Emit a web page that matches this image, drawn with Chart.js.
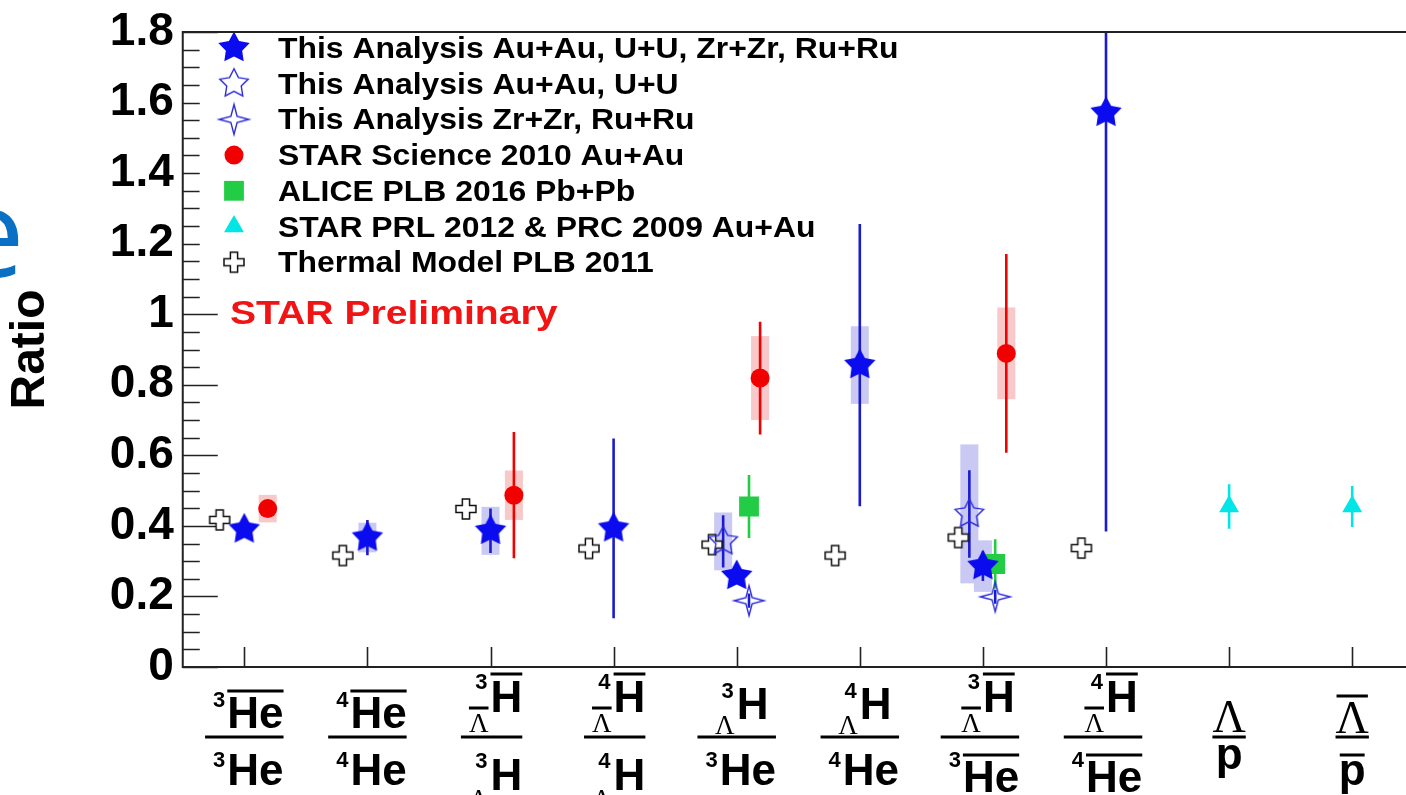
<!DOCTYPE html>
<html>
<head>
<meta charset="utf-8">
<title>Ratio</title>
<script src="https://cdn.jsdelivr.net/npm/chart.js@4.4.1/dist/chart.umd.min.js"></script>
<style>
  html, body { margin: 0; padding: 0; background: #fff; overflow: hidden; }
  #chart { display: block; width: 1406px; height: 795px; }
</style>
</head>
<body>
<canvas id="chart" width="1406" height="795"></canvas>
<script>
const SANS = '"Liberation Sans", Arial, Helvetica, sans-serif';
const SERIF = '"Liberation Serif", "Times New Roman", Times, serif';

// ratios on the x axis
const categories = [
  'anti-3He/3He', 'anti-4He/4He', 'anti-3LH/3LH', 'anti-4LH/4LH', '3LH/3He',
  '4LH/4He', 'anti-3LH/anti-3He', 'anti-4LH/anti-4He', 'Lambda/p', 'anti-Lambda/anti-p'
];

// fraction labels under each category: numerator, denominator
const tickLabels = [
  [{ A: '3', s: 'He', anti: true }, { A: '3', s: 'He' }],
  [{ A: '4', s: 'He', anti: true }, { A: '4', s: 'He' }],
  [{ A: '3', s: 'H', hyp: true, anti: true }, { A: '3', s: 'H', hyp: true }],
  [{ A: '4', s: 'H', hyp: true, anti: true }, { A: '4', s: 'H', hyp: true }],
  [{ A: '3', s: 'H', hyp: true }, { A: '3', s: 'He' }],
  [{ A: '4', s: 'H', hyp: true }, { A: '4', s: 'He' }],
  [{ A: '3', s: 'H', hyp: true, anti: true }, { A: '3', s: 'He', anti: true }],
  [{ A: '4', s: 'H', hyp: true, anti: true }, { A: '4', s: 'He', anti: true }],
  [{ s: 'Λ' }, { s: 'p' }],
  [{ s: 'Λ', anti: true }, { s: 'p', anti: true }]
];

const yTicks = [0, 0.2, 0.4, 0.6, 0.8, 1, 1.2, 1.4, 1.6, 1.8];
const yTickLabels = ['0', '0.2', '0.4', '0.6', '0.8', '1', '1.2', '1.4', '1.6', '1.8'];

// This Analysis Au+Au, U+U, Zr+Zr, Ru+Ru
const combinedVal  = [0.390, 0.367, 0.386, 0.393, 0.258, 0.856, 0.286, 1.571, null, null];
const combinedStat = [0.020, 0.050, 0.063, 0.255, 0.020, 0.400, 0.042, 1.187, null, null];
const combinedSys  = [null, 0.042, 0.068, null, null, 0.110, 0.073, null, null, null];

// This Analysis Au+Au, U+U
const auuVal  = [null, null, null, null, 0.356, null, 0.434, null, null, null];
const auuStat = [null, null, null, null, 0.074, null, 0.124, null, null, null];
const auuSys  = [null, null, null, null, 0.082, null, 0.197, null, null, null];

// This Analysis Zr+Zr, Ru+Ru
const zrruVal  = [null, null, null, null, 0.188, null, 0.199, null, null, null];
const zrruStat = [null, null, null, null, 0.020, null, 0.020, null, null, null];

// STAR Science 2010 Au+Au
const scienceVal  = [0.449, null, 0.487, null, 0.819, null, 0.889, null, null, null];
const scienceStat = [0.020, null, 0.179, null, 0.160, null, 0.282, null, null, null];
const scienceSys  = [0.039, null, 0.070, null, 0.119, null, 0.130, null, null, null];

// ALICE PLB 2016 Pb+Pb
const aliceVal  = [null, null, null, null, 0.455, null, 0.292, null, null, null];
const aliceStat = [null, null, null, null, 0.089, null, 0.070, null, null, null];

// STAR PRL 2012 & PRC 2009 Au+Au
const prlVal  = [null, null, null, null, null, null, null, null, 0.455, 0.455];
const prlStat = [null, null, null, null, null, null, null, null, 0.063, 0.058];

// Thermal Model PLB 2011
const thermalVal = [0.417, 0.316, 0.448, 0.336, 0.347, 0.316, 0.367, 0.337, null, null];

// marker images
function markerCanvas(size, paint) {
  const c = document.createElement('canvas');
  c.width = c.height = size;
  const g = c.getContext('2d');
  g.translate(size / 2, size / 2);
  paint(g);
  return c;
}
function starPath(g, n, R, r) {
  g.beginPath();
  for (let k = 0; k < 2 * n; k++) {
    const a = -Math.PI / 2 + k * Math.PI / n;
    const rad = k % 2 ? r : R;
    g.lineTo(rad * Math.cos(a), rad * Math.sin(a));
  }
  g.closePath();
}
const fullStar = markerCanvas(36, g => { starPath(g, 5, 16.5, 8.6); g.fillStyle = '#0b0bef'; g.fill(); });
const openStar = markerCanvas(36, g => { starPath(g, 5, 15, 7.6); g.strokeStyle = '#2a2ad8'; g.lineWidth = 1.4; g.stroke(); });
const fourStar = markerCanvas(36, g => { starPath(g, 4, 15, 4.4); g.strokeStyle = '#2a2ad8'; g.lineWidth = 1.4; g.stroke(); });
const openCross = markerCanvas(26, g => {
  const a = 3.6, L = 10;
  const pts = [[-a, -L], [a, -L], [a, -a], [L, -a], [L, a], [a, a], [a, L], [-a, L], [-a, a], [-L, a], [-L, -a], [-a, -a]];
  g.beginPath();
  pts.forEach(p => g.lineTo(p[0], p[1]));
  g.closePath();
  g.fillStyle = '#fff'; g.fill();
  g.strokeStyle = '#111'; g.lineWidth = 1.5; g.stroke();
});

const series = [
  { label: 'This Analysis Au+Au, U+U, Zr+Zr, Ru+Ru', val: combinedVal, stat: combinedStat, sys: combinedSys,
    dx: 0, marker: fullStar, radius: 10, color: '#0b0bef', line: '#1a1ad0', box: '#c9c9f4' },
  { label: 'This Analysis Au+Au, U+U', val: auuVal, stat: auuStat, sys: auuSys,
    dx: -0.11, marker: openStar, radius: 10, color: '#2a2ad8', line: '#1a1ad0', box: '#c9c9f4' },
  { label: 'This Analysis Zr+Zr, Ru+Ru', val: zrruVal, stat: zrruStat, sys: null,
    dx: 0.1, marker: fourStar, radius: 10, color: '#2a2ad8', line: '#1a1ad0', box: '#c9c9f4' },
  { label: 'STAR Science 2010 Au+Au', val: scienceVal, stat: scienceStat, sys: scienceSys,
    dx: 0.19, marker: 'circle', radius: 9.5, color: '#f20000', line: '#f20000', box: '#f9c8c8' },
  { label: 'ALICE PLB 2016 Pb+Pb', val: aliceVal, stat: aliceStat, sys: null,
    dx: 0.1, marker: 'rect', radius: 14, color: '#22cc44', line: '#22cc44', box: null },
  { label: 'STAR PRL 2012 & PRC 2009 Au+Au', val: prlVal, stat: prlStat, sys: null,
    dx: 0, marker: 'triangle', radius: 11.5, color: '#00e6e6', line: '#00e6e6', box: null },
  { label: 'Thermal Model PLB 2011', val: thermalVal, stat: null, sys: null,
    dx: -0.2, marker: openCross, radius: 10, color: '#fff', line: '#111', box: null }
];

const xOf = (i, s) => i + 0.5 + s.dx;

// fraction label layout, offsets from the category centre and the x axis
const F_BIG = `bold 44px ${SANS}`;
const F_SUP = `bold 22px ${SANS}`;
const F_LAM = `27px ${SERIF}`;
const F_LAMBIG = `46px ${SERIF}`;

function layoutTerm(ctx, t, den) {
  const out = { items: [], bars: [] };
  const put = (str, font, x, y, align) => {
    ctx.font = font;
    const w = ctx.measureText(str).width;
    const left = align === 'right' ? x - w : align === 'center' ? x - w / 2 : x;
    out.items.push({ str, font, x: left, y });
    return { left, right: left + w };
  };
  if (!t.A) {
    const base = den ? (t.anti ? 118 : 102) : (t.anti ? 66 : 65);
    const r = put(t.s, t.s === 'Λ' ? F_LAMBIG : F_BIG, 0, base, 'center');
    if (t.anti) out.bars.push({ x1: r.left + 1, x2: r.right - 1, y: den ? 88 : 29 });
    out.pad = 0;
    return out;
  }
  out.pad = 8;
  if (t.hyp) {
    let hBase, supBase, lamBase;
    if (den) { hBase = 123; supBase = 101; lamBase = 141; }
    else if (t.anti) { hBase = 45; supBase = 22; lamBase = 65; }
    else { hBase = 52; supBase = 31; lamBase = 67; }
    const h = put(t.s, F_BIG, 0, hBase, 'left');
    put(t.A, F_SUP, -3, supBase, 'right');
    const l = put('Λ', F_LAM, -2, lamBase, 'right');
    if (t.anti) {
      out.bars.push({ x1: h.left, x2: h.right, y: hBase - 38 });
      out.bars.push({ x1: l.left, x2: l.right, y: lamBase - 24 });
    }
    return out;
  }
  let heBase, supBase, heLeft;
  if (!den) { heBase = 61; supBase = 40; heLeft = -17; }
  else if (t.anti) { heBase = 125; supBase = 100; heLeft = -20; }
  else { heBase = 118; supBase = 100; heLeft = -17; }
  const he = put(t.s, F_BIG, heLeft, heBase, 'left');
  put(t.A, F_SUP, heLeft - 2, supBase, 'right');
  if (t.anti) out.bars.push({ x1: he.left, x2: he.right, y: heBase - 37 });
  return out;
}

function stretchText(ctx, str, x, y, font, sx) {
  ctx.save();
  ctx.translate(x, y);
  ctx.scale(sx, 1);
  ctx.font = font;
  ctx.fillText(str, 0, 0);
  ctx.restore();
}

const decorations = {
  id: 'decorations',
  beforeDatasetsDraw(chart) {
    const { ctx, chartArea: a, scales: { x, y } } = chart;
    ctx.save();
    // ticks pointing into the frame
    ctx.strokeStyle = '#222';
    ctx.lineWidth = 1.6;
    ctx.beginPath();
    for (let k = 0; k <= 36; k++) {
      const py = Math.round(y.getPixelForValue(k * 0.05)) + 0.5;
      ctx.moveTo(a.left, py);
      ctx.lineTo(a.left + (k % 4 === 0 ? 35 : 17), py);
    }
    categories.forEach((c, i) => {
      const px = Math.round(x.getPixelForValue(i + 0.5)) + 0.5;
      ctx.moveTo(px, a.bottom);
      ctx.lineTo(px, a.bottom - 20);
    });
    ctx.stroke();

    ctx.beginPath();
    ctx.rect(a.left, a.top, a.right - a.left, a.bottom - a.top);
    ctx.clip();
    // systematic boxes
    series.forEach(s => {
      if (!s.sys) return;
      ctx.fillStyle = s.box;
      s.val.forEach((v, i) => {
        if (v == null || s.sys[i] == null) return;
        const px = x.getPixelForValue(xOf(i, s));
        const top = y.getPixelForValue(v + s.sys[i]);
        const bot = y.getPixelForValue(v - s.sys[i]);
        ctx.fillRect(px - 9, top, 18, bot - top);
      });
    });
    // statistical error bars
    series.forEach(s => {
      if (!s.stat) return;
      ctx.strokeStyle = s.line;
      ctx.lineWidth = 2.6;
      s.val.forEach((v, i) => {
        if (v == null || s.stat[i] == null) return;
        const px = x.getPixelForValue(xOf(i, s));
        ctx.beginPath();
        ctx.moveTo(px, y.getPixelForValue(v + s.stat[i]));
        ctx.lineTo(px, y.getPixelForValue(v - s.stat[i]));
        ctx.stroke();
      });
    });
    ctx.restore();
  },
  afterDatasetsDraw(chart) {
    const { ctx, chartArea: a, scales: { x } } = chart;
    ctx.save();
    ctx.textBaseline = 'alphabetic';
    ctx.textAlign = 'left';

    // legend
    ctx.fillStyle = '#fff';
    ctx.fillRect(a.left + 17, a.top + 2, 640, 253);
    series.forEach((s, k) => {
      const cy = 48 + k * 35.7;
      ctx.fillStyle = s.color;
      Chart.helpers.drawPoint(ctx, { pointStyle: s.marker, radius: s.radius, borderWidth: 0, rotation: 0 }, 234, cy);
      ctx.fillStyle = '#000';
      stretchText(ctx, s.label, 278, cy + 10, `bold 29px ${SANS}`, 1.1);
    });

    ctx.fillStyle = '#f01414';
    stretchText(ctx, 'STAR Preliminary', 230, 324, `bold 34px ${SANS}`, 1.15);

    // frame: the right-hand edge lies just past the page
    ctx.strokeStyle = '#222';
    ctx.lineWidth = 2;
    ctx.beginPath();
    ctx.moveTo(chart.width, a.top);
    ctx.lineTo(a.left, a.top);
    ctx.lineTo(a.left, a.bottom);
    ctx.lineTo(chart.width, a.bottom);
    ctx.stroke();

    // fraction tick labels
    ctx.fillStyle = '#000';
    tickLabels.forEach((lab, i) => {
      const cx = x.getPixelForValue(i + 0.5);
      const num = layoutTerm(ctx, lab[0], false);
      const den = layoutTerm(ctx, lab[1], true);
      const parts = [num, den];
      let lo = Infinity, hi = -Infinity;
      parts.forEach(p => p.items.forEach(it => {
        ctx.font = it.font;
        lo = Math.min(lo, it.x);
        hi = Math.max(hi, it.x + ctx.measureText(it.str).width);
      }));
      const pad = Math.max(num.pad, den.pad);
      ctx.fillRect(cx + lo - pad, a.bottom + 70 - 1.5, hi - lo + pad, 3);
      parts.forEach(p => {
        p.items.forEach(it => { ctx.font = it.font; ctx.fillText(it.str, cx + it.x, a.bottom + it.y); });
        p.bars.forEach(b => ctx.fillRect(cx + b.x1, a.bottom + b.y - 1.5, b.x2 - b.x1, 3));
      });
    });

    // title letter running in from the left edge
    ctx.fillStyle = '#0a70c4';
    ctx.font = '122px "Open Sans", "Noto Sans", sans-serif';
    ctx.fillText('e', -44, 277);
    ctx.restore();
  }
};

new Chart(document.getElementById('chart'), {
  type: 'scatter',
  data: {
    datasets: series.map(s => ({
      label: s.label,
      data: s.val.map((v, i) => (v == null ? null : { x: xOf(i, s), y: v })).filter(p => p),
      pointStyle: s.marker,
      pointRadius: s.radius,
      backgroundColor: s.color,
      borderWidth: 0,
      showLine: false
    }))
  },
  options: {
    responsive: false,
    animation: false,
    events: [],
    layout: { autoPadding: false, padding: { top: 25, right: 0, bottom: 128, left: 0 } },
    plugins: { legend: { display: false }, tooltip: { enabled: false } },
    scales: {
      // the axis runs on a little past the right edge of the page
      x: { type: 'linear', min: 0, max: categories.length - 0.063, display: false },
      y: {
        min: 0,
        max: 1.8,
        afterBuildTicks: axis => { axis.ticks = yTicks.map(v => ({ value: v })); },
        afterFit: axis => { axis.width = 182.75; },
        grid: { display: false, drawTicks: false },
        border: { display: false },
        ticks: {
          autoSkip: false,
          color: '#000',
          padding: 9,
          font: { family: SANS, size: 46, weight: 'bold', lineHeight: 1 },
          callback: (v, i) => yTickLabels[i]
        },
        title: {
          display: true,
          text: 'Ratio',
          color: '#000',
          font: { family: SANS, size: 48, weight: 'bold', lineHeight: 1.2 },
          padding: { top: 2, bottom: 0 }
        }
      }
    }
  },
  plugins: [decorations]
});
</script>
</body>
</html>
